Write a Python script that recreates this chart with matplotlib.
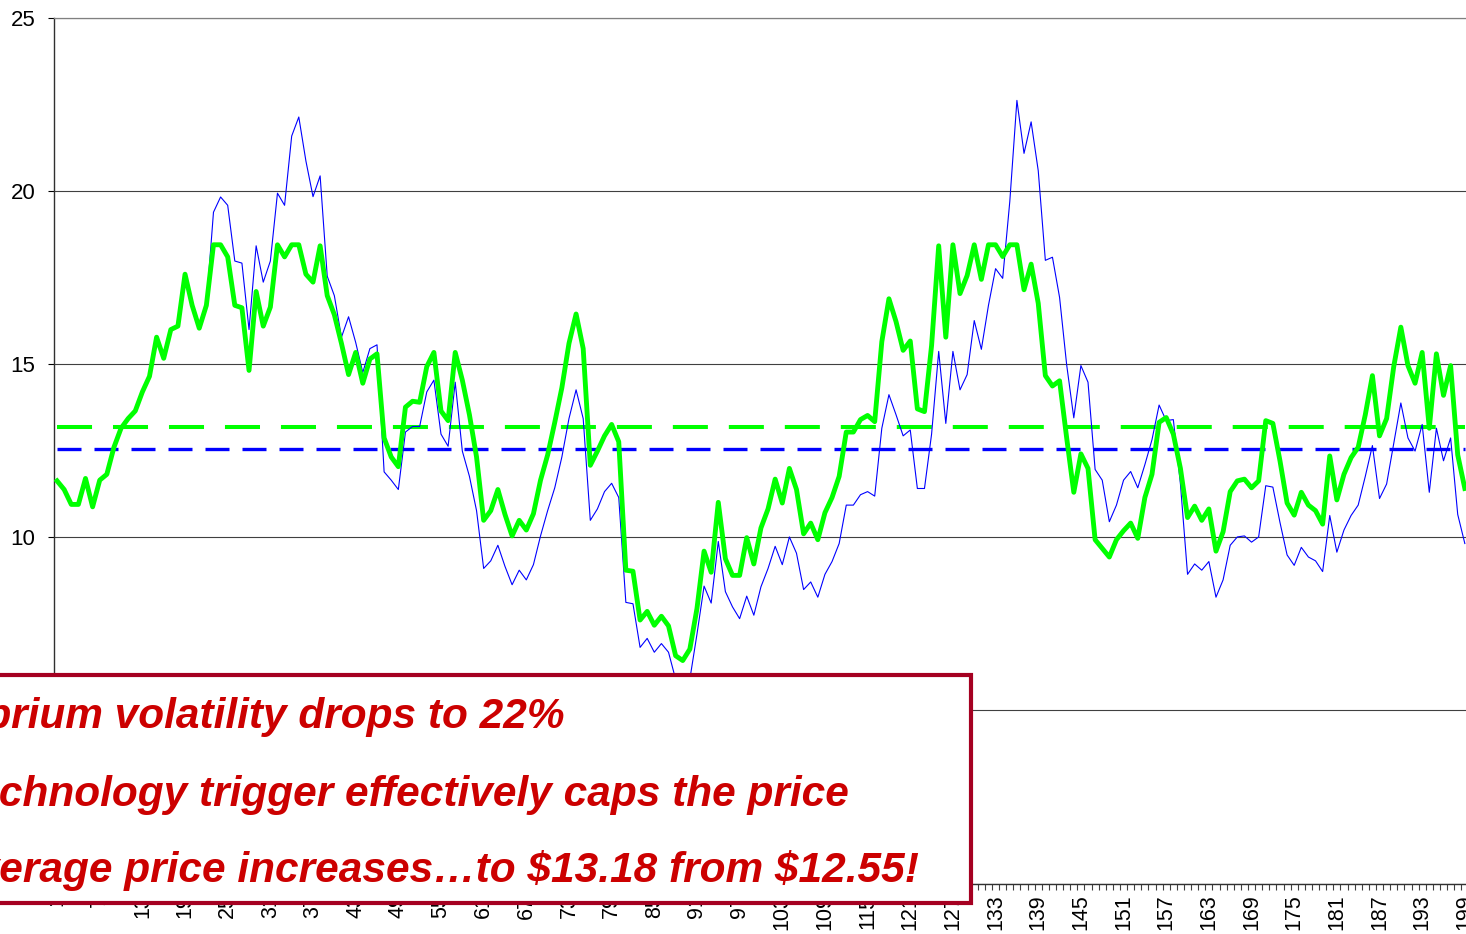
import matplotlib
matplotlib.use("Agg")
import matplotlib.pyplot as plt
from matplotlib.patches import Rectangle
from matplotlib.ticker import FixedLocator

plt.rcParams['font.family'] = ['Liberation Sans', 'DejaVu Sans']

# ---------------- data ----------------
periods = list(range(1, 200))

capped_price = [
    11.63, 11.38, 10.95, 10.95, 11.70, 10.88, 11.65, 11.82, 12.60, 13.15,
    13.43, 13.65, 14.20, 14.65, 15.78, 15.17, 16.00, 16.10, 17.60, 16.70,
    16.04, 16.70, 18.45, 18.45, 18.10, 16.70, 16.63, 14.82, 17.10, 16.10,
    16.65, 18.45, 18.10, 18.45, 18.45, 17.60, 17.37, 18.42, 16.98, 16.43,
    15.60, 14.70, 15.34, 14.45, 15.15, 15.30, 12.87, 12.32, 12.04, 13.76,
    13.93, 13.90, 14.93, 15.34, 13.65, 13.37, 15.34, 14.54, 13.54, 12.32,
    10.49, 10.77, 11.38, 10.66, 10.04, 10.49, 10.21, 10.68, 11.65, 12.38,
    13.32, 14.32, 15.60, 16.45, 15.45, 12.08, 12.49, 12.93, 13.26, 12.76,
    9.05, 9.02, 7.61, 7.86, 7.46, 7.72, 7.44, 6.58, 6.44, 6.77,
    7.94, 9.60, 8.99, 11.01, 9.38, 8.90, 8.90, 9.99, 9.23, 10.27,
    10.82, 11.68, 10.99, 11.99, 11.38, 10.10, 10.41, 9.93, 10.71, 11.15,
    11.76, 13.04, 13.04, 13.40, 13.52, 13.34, 15.65, 16.89, 16.23, 15.40,
    15.67, 13.71, 13.63, 15.54, 18.42, 15.78, 18.45, 17.04, 17.56, 18.45,
    17.45, 18.45, 18.45, 18.11, 18.45, 18.45, 17.15, 17.89, 16.76, 14.67,
    14.37, 14.52, 12.87, 11.30, 12.41, 11.99, 9.93, 9.68, 9.43, 9.93,
    10.19, 10.41, 9.97, 11.15, 11.82, 13.32, 13.46, 12.98, 11.99, 10.57,
    10.90, 10.49, 10.82, 9.60, 10.16, 11.32, 11.63, 11.68, 11.43, 11.63,
    13.37, 13.29, 12.21, 10.99, 10.64, 11.30, 10.93, 10.77, 10.38, 12.35,
    11.08, 11.82, 12.30, 12.60, 13.54, 14.67, 12.93, 13.43, 14.93, 16.07,
    14.96, 14.45, 15.34, 13.15, 15.30, 14.10, 14.96, 12.38, 11.41,
]

base_price = [
    11.63, 11.38, 10.95, 10.95, 11.70, 10.88, 11.65, 11.82, 12.60, 13.15,
    13.43, 13.65, 14.20, 14.65, 15.78, 15.17, 16.00, 16.10, 17.60, 16.70,
    16.04, 16.70, 19.39, 19.83, 19.59, 17.98, 17.92, 16.00, 18.42, 17.37,
    17.98, 19.94, 19.59, 21.59, 22.14, 20.87, 19.84, 20.44, 17.54, 16.98,
    15.78, 16.37, 15.63, 14.76, 15.45, 15.56, 11.89, 11.65, 11.38, 13.04,
    13.20, 13.20, 14.20, 14.54, 12.98, 12.63, 14.48, 12.49, 11.76, 10.77,
    9.10, 9.32, 9.77, 9.16, 8.63, 9.05, 8.77, 9.21, 10.04, 10.77,
    11.43, 12.32, 13.43, 14.26, 13.43, 10.49, 10.82, 11.32, 11.56, 11.15,
    8.12, 8.08, 6.82, 7.08, 6.68, 6.93, 6.68, 5.90, 5.70, 5.90,
    7.20, 8.59, 8.10, 9.88, 8.43, 7.99, 7.65, 8.30, 7.75, 8.57,
    9.10, 9.74, 9.21, 10.01, 9.54, 8.49, 8.71, 8.27, 8.93, 9.30,
    9.82, 10.93, 10.93, 11.23, 11.32, 11.19, 13.15, 14.12, 13.54, 12.93,
    13.10, 11.41, 11.41, 12.98, 15.37, 13.29, 15.37, 14.26, 14.70, 16.26,
    15.43, 16.70, 17.76, 17.48, 19.70, 22.62, 21.09, 22.00, 20.59, 18.00,
    18.09, 16.93, 14.98, 13.45, 14.96, 14.48, 11.96, 11.65, 10.45, 10.93,
    11.65, 11.90, 11.43, 12.10, 12.82, 13.82, 13.37, 13.40, 11.54, 8.93,
    9.23, 9.05, 9.30, 8.27, 8.77, 9.77, 10.01, 10.04, 9.86, 10.01,
    11.49, 11.45, 10.43, 9.49, 9.19, 9.71, 9.43, 9.32, 9.01, 10.63,
    9.57, 10.21, 10.63, 10.93, 11.76, 12.65, 11.12, 11.54, 12.71, 13.88,
    12.87, 12.49, 13.26, 11.30, 13.15, 12.21, 12.87, 10.66, 9.82,
]

capped_avg = 13.18
base_avg = 12.55

label_periods = list(range(1, 200, 6))
y_ticks = [0, 5, 10, 15, 20, 25]

text_lines = [
    "Equilibrium volatility drops to 22%",
    "Technology trigger effectively caps the price",
    "Average price increases\u2026to $13.18 from $12.55!",
]

# ---------------- figure ----------------
W, H = 1466, 934
fig = plt.figure(figsize=(W / 100, H / 100), dpi=100)

ax_left = 53.5 / W
ax_bottom = (H - 883.5) / H
ax_height = (883.5 - 18) / H
ax_width = (200 * 7.11) / W
ax = fig.add_axes([ax_left, ax_bottom, ax_width, ax_height])

ax.set_xlim(0.5, 200.5)
ax.set_ylim(0, 25)

# averages (dashed)
ax.plot(periods, [base_avg] * len(periods), color='#0000FF', lw=2.4,
        dashes=(7.2, 3.9), zorder=2, dash_capstyle='butt')
ax.plot(periods, [capped_avg] * len(periods), color='#00FF00', lw=2.9,
        dashes=(8.7, 5.2), zorder=2, dash_capstyle='butt')

# series
ax.plot(periods, base_price, color='#0000FF', lw=0.8, zorder=3)
ax.plot(periods, capped_price, color='#00FF00', lw=3.5, zorder=4,
        solid_joinstyle='round')

# grid
ax.set_yticks(y_ticks)
ax.yaxis.grid(True, color='#404040', lw=0.8)
ax.set_axisbelow(True)

ax.spines['right'].set_visible(False)
ax.spines['top'].set_color('#808080')
ax.spines['top'].set_linewidth(0.9)
ax.spines['left'].set_color('#303030')
ax.spines['left'].set_linewidth(1.0)
ax.spines['bottom'].set_color('#303030')
ax.spines['bottom'].set_linewidth(1.0)

ax.tick_params(axis='y', direction='out', length=4, width=0.8, pad=9,
               labelsize=16, colors='black')
ax.set_yticklabels([str(v) for v in y_ticks])

ax.set_xticks(label_periods)
ax.set_xticklabels([str(v) for v in label_periods], rotation=90)
ax.tick_params(axis='x', which='major', length=0, pad=8, labelsize=15.5)
ax.xaxis.set_minor_locator(FixedLocator([i + 0.5 for i in range(0, 201)]))
ax.tick_params(axis='x', which='minor', direction='out', length=4,
               width=0.8, color='#404040')

# ---------------- annotation box ----------------
def fx(px):
    return px / W

def fy(py):
    return 1 - py / H

box = Rectangle((fx(-30), fy(903)), fx(970.5) - fx(-30), fy(675) - fy(903),
                transform=fig.transFigure, facecolor='white',
                edgecolor='#A50021', lw=3.0, zorder=5)
fig.patches.append(box)

line_ends = [565, 849, 920]
baselines = [728, 806, 882]
for t, xe, yb in zip(text_lines, line_ends, baselines):
    fig.text(fx(xe), fy(yb), t, ha='right', va='baseline', fontsize=30.5,
             fontweight='bold', fontstyle='italic', color='#CC0000',
             zorder=6, parse_math=False)

fig.savefig('out.png', dpi=100)
